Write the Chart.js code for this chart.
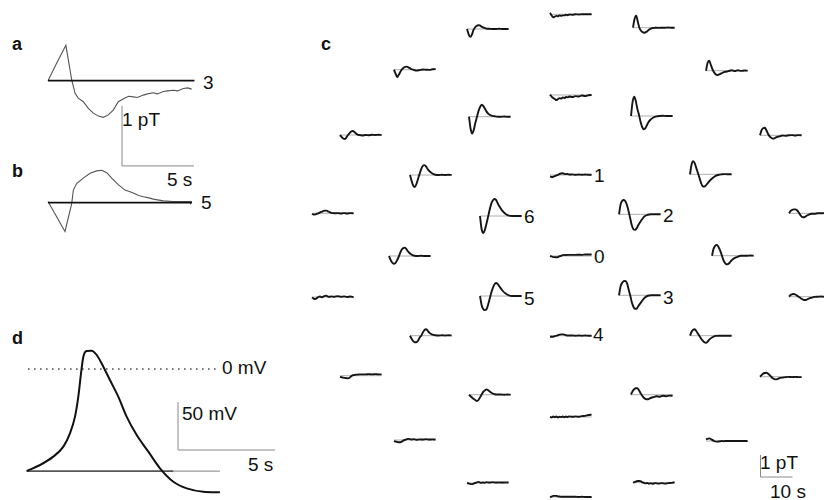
<!DOCTYPE html>
<html><head><meta charset="utf-8">
<script src="https://cdn.jsdelivr.net/npm/chart.js@4.4.1/dist/chart.umd.min.js"></script>
<style>
html,body{margin:0;padding:0;background:#fff;}
body{width:824px;height:500px;overflow:hidden;position:relative;font-family:"Liberation Sans",Arial,Helvetica,sans-serif;color:#111;}
canvas{position:absolute;}
.t{position:absolute;font-size:19px;line-height:19px;white-space:nowrap;}
.b{position:absolute;font-size:18px;line-height:18px;font-weight:bold;}
</style></head><body>
<div class="b" style="left:12px;top:35px">a</div>
<div class="b" style="left:12px;top:162px">b</div>
<div class="b" style="left:321px;top:35px">c</div>
<div class="b" style="left:12px;top:329px">d</div>
<div class="t" style="left:203px;top:73px">3</div>
<div class="t" style="left:122px;top:110px">1 pT</div>
<div class="t" style="left:167px;top:170px">5 s</div>
<div class="t" style="left:201px;top:193px">5</div>
<div class="t" style="left:222px;top:358px">0 mV</div>
<div class="t" style="left:182px;top:404px">50 mV</div>
<div class="t" style="left:248px;top:455px">5 s</div>
<div class="t" style="left:594px;top:166px">1</div>
<div class="t" style="left:663px;top:206px">2</div>
<div class="t" style="left:594px;top:247px">0</div>
<div class="t" style="left:663px;top:288px">3</div>
<div class="t" style="left:593px;top:325px">4</div>
<div class="t" style="left:524px;top:207px">6</div>
<div class="t" style="left:524px;top:289px">5</div>
<div class="t" style="left:760px;top:453px">1 pT</div>
<div class="t" style="left:770px;top:482px">10 s</div>
<script>
// ---------- DATA ----------
// panel a (time s, field pT)
const tA = [0, 0.6, 1.24, 1.65, 1.88, 2.1, 2.45, 2.8, 3.15, 3.5, 3.84, 4.19, 4.53, 4.88, 5.35, 5.6, 5.92, 6.2, 6.62, 6.9, 7.31, 7.6, 8.01, 8.3, 8.7, 9.0, 9.4, 9.7, 9.98];
const vA = [0, 0.29, 0.59, 0.01, -0.21, -0.29, -0.35, -0.46, -0.54, -0.59, -0.61, -0.57, -0.49, -0.35, -0.29, -0.26, -0.27, -0.28, -0.24, -0.22, -0.20, -0.22, -0.18, -0.17, -0.16, -0.17, -0.13, -0.12, -0.14];
// panel b
const tB = [0, 1.18, 1.65, 1.76, 1.99, 2.45, 2.92, 3.38, 3.73, 4.08, 4.42, 4.88, 5.35, 5.6, 5.92, 6.3, 6.62, 7.0, 7.31, 8.01, 8.7, 9.4, 9.98];
const vB = [0.02, -0.48, -0.01, 0.21, 0.32, 0.41, 0.49, 0.53, 0.54, 0.50, 0.41, 0.30, 0.21, 0.19, 0.16, 0.12, 0.10, 0.08, 0.06, 0.03, 0.02, 0.02, 0.02];
// panel d (time s, membrane potential mV)
const tD = [0, 0.69, 1.37, 1.89, 2.23, 2.49, 2.66, 2.8, 2.92, 3.09, 3.35, 3.61, 3.95, 4.29, 4.72, 5.15, 5.67, 6.27, 6.87, 7.56, 8.25, 9.1, 9.96];
const vD = [-106.3, -100, -91.3, -80.9, -67, -49.6, -28.8, -4.5, 12.8, 18.8, 19.1, 14.6, 2.4, -11.5, -28.8, -49.6, -68.8, -86.1, -103.4, -117.4, -124.3, -127.8, -128.4];
const restD = -106.3;
// panel c: common time base (s) and per-sensor field (pT)
const tC = [0, 0.5, 1, 1.5, 2, 2.5, 3, 3.5, 4, 4.5, 5, 5.5, 6, 7, 8, 9, 10, 11, 12, 13];
const s01 = [0.07,-0.05,-0.14,-0.11,-0.07,-0.09,-0.05,-0.07,-0.05,-0.05,-0.02,-0.04,-0.01,-0.02,0,-0.01,0,0,0,0];
const s02 = [0,-0.23,-0.36,-0.27,-0.05,0.07,0.14,0.17,0.16,0.11,0.07,0.05,0.02,0.01,0,0,0.01,0,0,0];
const s03 = [0,0.41,0.55,0.27,0,-0.14,-0.2,-0.23,-0.2,-0.16,-0.09,-0.05,-0.02,0,-0.01,0,0,0.01,0,0];
const s04 = [0,-0.18,-0.34,-0.23,-0.09,0.02,0.09,0.13,0.14,0.11,0.07,0.02,0,-0.04,-0.02,0.01,0,-0.01,0.02,0.03];
const s05 = [0,0.36,0.45,0.27,0.07,-0.07,-0.16,-0.2,-0.18,-0.14,-0.11,-0.07,-0.05,-0.02,0.02,-0.02,0.02,-0.01,0.01,0];
const s06 = [0.02,-0.07,-0.14,-0.18,-0.23,-0.18,-0.14,-0.16,-0.11,-0.14,-0.09,-0.11,-0.07,-0.09,-0.05,-0.07,-0.02,-0.05,-0.01,0];
const s07 = [0,-0.55,-0.77,-0.59,-0.27,0,0.27,0.45,0.55,0.48,0.36,0.23,0.14,0.05,0.02,0,0,0.01,0,0];
const s08 = [0,0.64,0.88,0.68,0.32,0.05,-0.27,-0.5,-0.6,-0.55,-0.41,-0.27,-0.18,-0.07,-0.02,0,0.01,0,0,0];
const s09 = [0,-0.09,-0.16,-0.18,-0.11,0,0.09,0.16,0.18,0.14,0.07,0.02,0,-0.02,0,-0.01,0.01,0,0.01,0];
const s10 = [0,0.23,0.33,0.34,0.23,0.07,-0.05,-0.11,-0.15,-0.14,-0.09,-0.07,-0.05,-0.01,-0.02,0,0.01,-0.01,0.01,0];
const s11 = [0,-0.27,-0.48,-0.55,-0.41,-0.18,0.05,0.27,0.41,0.45,0.39,0.27,0.18,0.07,0.01,0,0.01,0,0.01,0];
const s12 = [-0.07,-0.09,-0.08,-0.05,-0.02,0.01,0.05,0.07,0.08,0.05,0.04,0.05,0.02,0.03,0.01,0.02,0.01,0.02,0.01,0.01];
const s13 = [0,0.45,0.6,0.5,0.27,0.05,-0.18,-0.41,-0.55,-0.56,-0.5,-0.41,-0.32,-0.18,-0.07,-0.02,0,0.01,0,0];
const s14 = [-0.02,-0.06,-0.05,-0.02,0,0.04,0.07,0.1,0.12,0.12,0.09,0.05,0.02,0,0.01,-0.01,0.01,-0.01,0.01,0];
const s15 = [0,-0.59,-0.77,-0.64,-0.36,-0.05,0.27,0.55,0.7,0.77,0.73,0.59,0.45,0.23,0.09,0.02,0,0,0,0];
const s16 = [0,0.45,0.61,0.65,0.59,0.41,0.14,-0.18,-0.5,-0.68,-0.71,-0.64,-0.5,-0.27,-0.09,-0.02,0,0,0,0];
const s17 = [0,0.11,0.16,0.18,0.18,0.14,0.05,-0.07,-0.16,-0.18,-0.16,-0.11,-0.07,-0.02,-0.02,0,0,0.01,0,0];
const s18 = [0,-0.18,-0.3,-0.35,-0.32,-0.2,-0.05,0.14,0.3,0.36,0.38,0.3,0.2,0.07,0.01,0,0.01,0,0,0];
const s19 = [0,-0.02,-0.05,-0.05,-0.06,-0.05,-0.01,0.01,0.04,0.05,0.04,0.05,0.05,0.05,0.05,0.06,0.05,0.07,0.07,0.07];
const s20 = [0,0.32,0.45,0.49,0.41,0.25,0.05,-0.18,-0.32,-0.39,-0.38,-0.32,-0.23,-0.11,-0.05,0,0,0,0.01,0];
const s21 = [-0.02,-0.07,-0.09,-0.05,0,0.02,-0.01,0.02,0.05,0.06,0.02,0.01,0.03,0.01,0.04,0.01,0.03,0,0.02,-0.01];
const s22 = [0,-0.41,-0.59,-0.64,-0.61,-0.41,-0.14,0.14,0.36,0.52,0.59,0.55,0.45,0.25,0.11,0.03,0,0,0,0];
const s23 = [0,0.41,0.57,0.64,0.65,0.55,0.27,0,-0.32,-0.52,-0.61,-0.61,-0.5,-0.3,-0.11,-0.02,0,0,0,0];
const s24 = [0,0.08,0.11,0.12,0.1,0.05,0,-0.05,-0.1,-0.14,-0.15,-0.14,-0.1,-0.05,-0.01,0,0.01,0,0,0];
const s25 = [0,-0.14,-0.25,-0.3,-0.3,-0.23,-0.09,0,0.14,0.25,0.29,0.23,0.14,0.05,0.02,0.01,0.02,0.01,0.02,0.01];
const s26 = [-0.05,-0.05,-0.05,-0.02,0,0.02,0.05,0.06,0.06,0.05,0.02,0.01,0.01,0.01,0,0.01,0,0.01,0,0];
const s27 = [0,0.18,0.27,0.29,0.2,0.09,-0.02,-0.14,-0.23,-0.3,-0.32,-0.27,-0.18,-0.07,-0.01,0,0,0,0,0];
const s28 = [-0.05,-0.07,-0.09,-0.1,-0.11,-0.12,-0.09,-0.02,0.02,0.03,0.05,0.05,0.06,0.06,0.06,0.07,0.06,0.07,0.06,0.06];
const s29 = [0,0.07,0.14,0.17,0.18,0.14,0.07,0,-0.07,-0.11,-0.12,-0.1,-0.07,-0.04,-0.02,-0.01,-0.02,-0.01,-0.02,-0.02];
const s30 = [0,-0.07,-0.14,-0.2,-0.25,-0.29,-0.23,-0.11,0.02,0.14,0.2,0.24,0.2,0.09,0.02,0.01,0.01,0,0.01,0];
const s31 = [0,0.16,0.25,0.29,0.29,0.2,0.07,-0.05,-0.14,-0.19,-0.21,-0.2,-0.16,-0.11,-0.07,-0.09,-0.05,-0.07,-0.04,-0.05];
const s32 = [-0.05,-0.07,-0.09,-0.1,-0.1,-0.07,-0.02,0.01,0.04,0.05,0.04,0.02,0.04,0.01,0.03,0.02,0.04,0.02,0.03,0.02];
const s33 = [0,-0.02,0.02,-0.01,0.02,-0.02,0.01,0,0.02,-0.01,0.02,0,0.03,0.01,0.03,0.01,0.04,0.05,0.09,0.11];
const s34 = [0.08,0.1,0.12,0.09,0.05,0,-0.02,-0.03,-0.02,-0.01,0,-0.01,0,0,0,0,0,0,0,0];
const s35 = [0,-0.02,-0.04,-0.05,-0.03,0,0.02,0.05,0.03,0.01,0.03,0.01,0.04,0.02,0.04,0.02,0.03,0.02,0.03,0.02];
const s36 = [0,0.03,0.06,0.08,0.08,0.06,0.01,-0.01,-0.03,-0.01,-0.05,-0.02,-0.05,-0.02,-0.04,-0.02,-0.04,-0.02,-0.01,0.02];
const s37 = [0,0.02,0.05,0.05,0.05,0.03,0.02,0.01,0.01,0.01,0.01,0.01,0.01,0.01,0.01,0,0.01,0,0,0];
const cSeries = [s01,s02,s03,s04,s05,s06,s07,s08,s09,s10,s11,s12,s13,s14,s15,s16,s17,s18,s19,s20,s21,s22,s23,s24,s25,s26,s27,s28,s29,s30,s31,s32,s33,s34,s35,s36,s37];
// scale bars (data units)
const barPT = 1, barSab = 5, barSc = 10, barMV = 50, barSd = 5;

// ---------- LAYOUT (page pixels) ----------
const cPos = [[550,14.3],[467,29],[633,27.7],[394,69.7],[706,70.7],[550,95],[469,116.7],[631,116],[340,135],[760,135.3],
 [410,175],[550,175],[690,174.3],[312,213.3],[480,216],[619,214.3],[789,213.3],[389,256],[550,256],[712,255.7],
 [312,297],[480,296],[619,295.3],[789,296.7],[410,335.7],[550,335.7],[690,335.7],[340,375.7],[760,376.7],[469,394.7],
 [631,394.7],[394,440],[550,417],[706,441],[467,483],[633,482.7],[550,497]];

function makePanel(box, origin, k, datasets){
  const c = document.createElement('canvas');
  c.width = box.w; c.height = box.h;
  c.style.left = box.x + 'px'; c.style.top = box.y + 'px';
  c.style.width = box.w + 'px'; c.style.height = box.h + 'px';
  document.body.appendChild(c);
  new Chart(c, {type:'line', data:{datasets}, options:{
    responsive:false, maintainAspectRatio:false, animation:false, devicePixelRatio:1, events:[],
    layout:{padding:0, autoPadding:false},
    plugins:{legend:{display:false}, tooltip:{enabled:false}},
    elements:{point:{radius:0}},
    scales:{
      x:{type:'linear', display:false, min:(box.x-origin.x)/k.x, max:(box.x+box.w-origin.x)/k.x},
      y:{type:'linear', display:false, min:(origin.y-box.y-box.h)/k.y, max:(origin.y-box.y)/k.y}
    }
  }});
}
// note: Chart.js paints dataset 0 on top
function ser(t, v, style){
  return Object.assign({data: t.map((x,i)=>({x:x, y:v[i]})), pointRadius:0, fill:false, tension:0, clip:false}, style);
}
function seg(x0,y0,x1,y1,style){ return ser([x0,x1],[y0,y1],style); }

// panel a
const kAB = {x:14.4, y:60};
const barA = {t:5.14, v:-1.42};
makePanel({x:40,y:30,w:175,h:145},{x:48,y:80.7},kAB,[
  seg(0,0,10.17,0,{borderColor:'#111',borderWidth:1.8}),
  ser(tA,vA,{borderColor:'#555',borderWidth:1.1}),
  seg(barA.t,barA.v,barA.t,barA.v+barPT,{borderColor:'#8a8a8a',borderWidth:1}),
  seg(barA.t,barA.v,barA.t+barSab,barA.v,{borderColor:'#8a8a8a',borderWidth:1})
]);
// panel b
makePanel({x:40,y:150,w:175,h:95},{x:48,y:202.7},kAB,[
  seg(0,0,10.0,0,{borderColor:'#111',borderWidth:1.8}),
  ser(tB,vB,{borderColor:'#555',borderWidth:1.1}),
  seg(9.9,-0.03,9.9,0.03,{borderColor:'#555',borderWidth:1})
]);
// panel d
const kD = {x:19.4, y:0.96};
const barD = {t:7.8, v:-84.4};
makePanel({x:15,y:335,w:275,h:165},{x:26.7,y:369},kD,[
  ser(tD,vD,{borderColor:'#111',borderWidth:2,cubicInterpolationMode:'monotone'}),
  seg(0.07,0,9.96,0,{borderColor:'#444',borderWidth:1.5,borderDash:[1.5,4.5]}),
  seg(0,restD,7.56,restD,{borderColor:'#555',borderWidth:1.8}),
  seg(7.56,restD,9.96,restD,{borderColor:'#999',borderWidth:1.3}),
  seg(barD.t,barD.v,barD.t,barD.v+barMV,{borderColor:'#8a8a8a',borderWidth:1}),
  seg(barD.t,barD.v,barD.t+barSd,barD.v,{borderColor:'#8a8a8a',borderWidth:1})
]);
// panel c sensors
const kC = {x:3.2, y:22};
cSeries.forEach((vals, i) => {
  const p = cPos[i];
  makePanel({x:p[0]-4, y:Math.round(p[1])-26, w:54, h:52}, {x:p[0], y:p[1]}, kC, [
    ser(tC,vals,{borderColor:'#151515',borderWidth:1.9,cubicInterpolationMode:'monotone'}),
    seg(tC[0],0,tC[tC.length-1],0,{borderColor:'#b0b0b0',borderWidth:1})
  ]);
});
// panel c scale bar
makePanel({x:754,y:448,w:45,h:35},{x:760.5,y:477},kC,[
  seg(0,0,0,barPT,{borderColor:'#8a8a8a',borderWidth:1}),
  seg(0,0,barSc,0,{borderColor:'#8a8a8a',borderWidth:1})
]);
</script>
</body></html>
